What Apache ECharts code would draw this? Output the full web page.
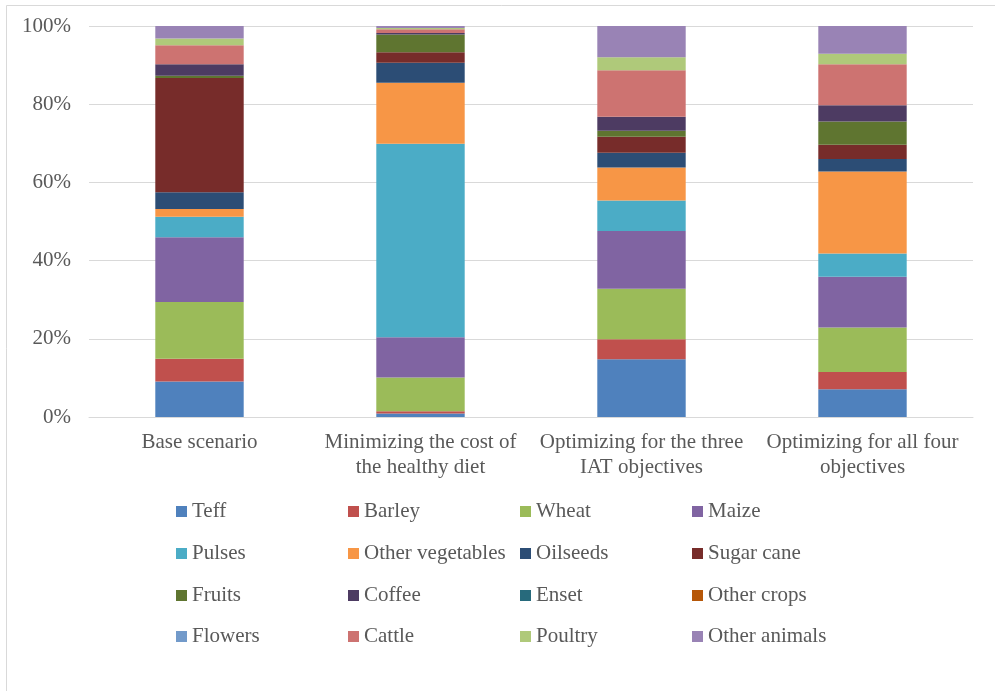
<!DOCTYPE html>
<html>
<head>
<meta charset="utf-8">
<script src="https://cdn.jsdelivr.net/npm/echarts@6/dist/echarts.min.js"></script>
<style>
  html, body { margin: 0; padding: 0; background: #fff; }
  #chart { width: 995px; height: 691px; }
</style>
</head>
<body>
<div id="chart"></div>
<script>
var categories = [
  'Base scenario',
  'Minimizing the cost of\nthe healthy diet',
  'Optimizing for the three\nIAT objectives',
  'Optimizing for all four\nobjectives'
];
var yTicks = [0, 20, 40, 60, 80, 100];

// shares in % per scenario
var teff         = [9.1, 0.9, 14.8, 7.1];
var barley       = [5.8, 0.6, 5.1, 4.4];
var wheat        = [14.5, 8.6, 12.9, 11.4];
var maize        = [16.6, 10.3, 14.8, 13.0];
var pulses       = [5.2, 49.5, 7.8, 5.9];
var otherVeg     = [2.0, 15.6, 8.4, 21.0];
var oilseeds     = [4.3, 5.1, 3.8, 3.2];
var sugarCane    = [29.2, 2.7, 4.1, 3.6];
var fruits       = [0.6, 4.5, 1.5, 6.0];
var coffee       = [2.9, 0.4, 3.6, 4.1];
var enset        = [0, 0, 0, 0];
var otherCrops   = [0, 0, 0, 0];
var flowers      = [0, 0, 0, 0];
var cattle       = [4.9, 1.0, 11.9, 10.5];
var poultry      = [1.7, 0.3, 3.3, 2.7];
var otherAnimals = [3.3, 0.5, 8.0, 7.2];

var seriesDefs = [
  ['Teff', teff, '#4F81BD'],
  ['Barley', barley, '#C0504D'],
  ['Wheat', wheat, '#9BBB59'],
  ['Maize', maize, '#8064A2'],
  ['Pulses', pulses, '#4BACC6'],
  ['Other vegetables', otherVeg, '#F79646'],
  ['Oilseeds', oilseeds, '#2C4D75'],
  ['Sugar cane', sugarCane, '#772C2A'],
  ['Fruits', fruits, '#5F7530'],
  ['Coffee', coffee, '#4D3B62'],
  ['Enset', enset, '#276A7C'],
  ['Other crops', otherCrops, '#B65708'],
  ['Flowers', flowers, '#729ACA'],
  ['Cattle', cattle, '#CD7371'],
  ['Poultry', poultry, '#AFC97A'],
  ['Other animals', otherAnimals, '#9983B5']
];

var font = 'Liberation Serif';
var txt = '#595959';

var series = seriesDefs.map(function (d) {
  return {
    name: d[0],
    type: 'bar',
    stack: 'total',
    barWidth: '40%',
    data: d[1],
    itemStyle: { color: d[2] }
  };
});

// legend: 4 rows of 4
var rowTops = [500, 542, 584, 625];
var legends = rowTops.map(function (top, r) {
  return {
    data: seriesDefs.slice(r * 4, r * 4 + 4).map(function (d) { return d[0]; }),
    left: 176,
    top: top + 1,
    padding: 0,
    itemWidth: 11,
    itemHeight: 11,
    itemGap: 12,
    icon: 'rect',
    selectedMode: false,
    textStyle: {
      fontFamily: font,
      fontSize: 21,
      color: txt,
      width: 144,
      lineHeight: 21
    }
  };
});

var chart = echarts.init(document.getElementById('chart'));
chart.setOption({
  animation: false,
  backgroundColor: '#fff',
  graphic: [{
    type: 'rect',
    shape: { x: 6.5, y: 5.5, width: 1000, height: 700 },
    style: { fill: 'none', stroke: '#d9d9d9', lineWidth: 1 },
    silent: true
  }],
  grid: { left: 89, right: 22, top: 26, bottom: 274 },
  legend: legends,
  xAxis: {
    type: 'category',
    data: categories,
    axisLine: { lineStyle: { color: '#d9d9d9', width: 1 } },
    axisTick: { show: false },
    axisLabel: {
      fontFamily: font,
      fontSize: 21,
      color: txt,
      lineHeight: 25,
      margin: 13,
      interval: 0
    }
  },
  yAxis: {
    type: 'value',
    min: yTicks[0],
    max: yTicks[yTicks.length - 1],
    interval: yTicks[1] - yTicks[0],
    axisLine: { show: false },
    axisTick: { show: false },
    splitLine: { lineStyle: { color: '#d9d9d9', width: 1 } },
    axisLabel: {
      fontFamily: font,
      fontSize: 21,
      color: txt,
      margin: 18,
      formatter: '{value}%'
    }
  },
  series: series
});
</script>
</body>
</html>
